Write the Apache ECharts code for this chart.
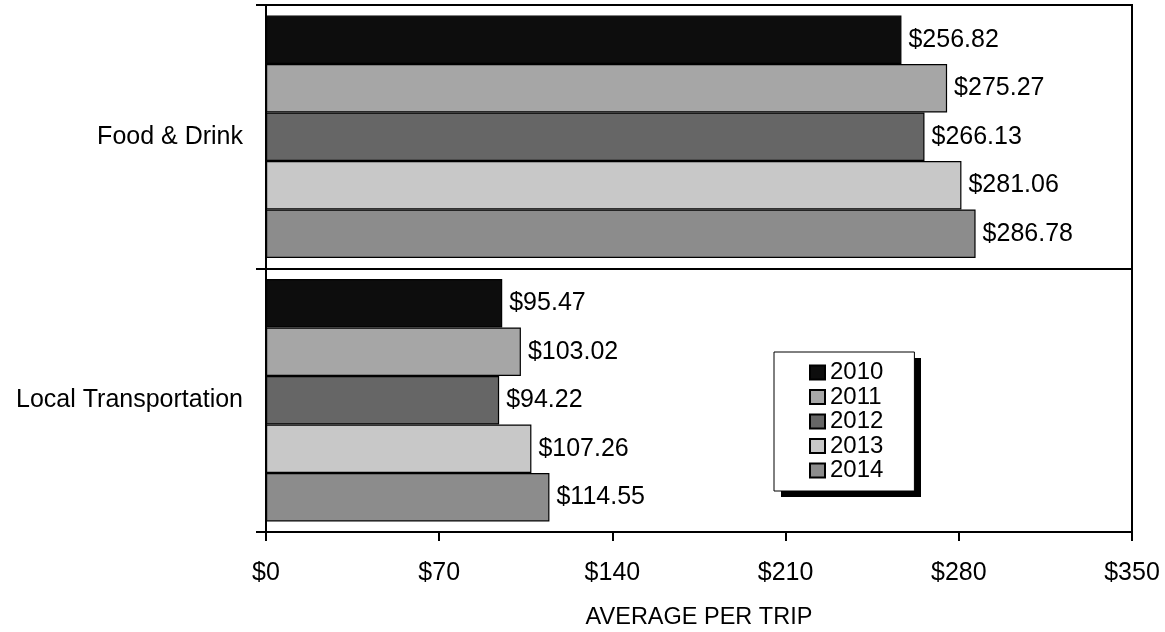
<!DOCTYPE html>
<html>
<head>
<meta charset="utf-8">
<script src="https://cdn.jsdelivr.net/npm/echarts@6/dist/echarts.min.js"></script>
<style>
html,body{margin:0;padding:0;background:#fff;}
#chart{width:1165px;height:632px;}
</style>
</head>
<body>
<div id="chart"></div>
<script>
const categories = ['Food & Drink', 'Local Transportation'];
const years = ['2010', '2011', '2012', '2013', '2014'];
const values2010 = [256.82, 95.47];
const values2011 = [275.27, 103.02];
const values2012 = [266.13, 94.22];
const values2013 = [281.06, 107.26];
const values2014 = [286.78, 114.55];
const xTicks = [0, 70, 140, 210, 280, 350];
const axisTitle = 'AVERAGE PER TRIP';

const seriesValues = [values2010, values2011, values2012, values2013, values2014];
const colors = ['#0d0d0d', '#a6a6a6', '#666666', '#c8c8c8', '#8c8c8c'];
const FONT = "'Liberation Sans', Arial, sans-serif";

const chart = echarts.init(document.getElementById('chart'), null, {renderer: 'canvas'});
chart.setOption({
  animation: false,
  backgroundColor: '#fff',
  textStyle: {fontFamily: FONT},
  grid: {
    left: 266, right: 33, top: 5, bottom: 100,
    containLabel: false, outerBoundsMode: 'none',
    show: true, borderColor: '#000', borderWidth: 2, backgroundColor: 'transparent'
  },
  graphic: [{
    type: 'rect', z: 1, left: 781, top: 358,
    shape: {width: 140, height: 139},
    style: {fill: '#000'}
  }],
  legend: {
    z: 10,
    orient: 'vertical',
    left: 774, top: 352,
    padding: [8.5, 31, 8.5, 35],
    itemWidth: 15, itemHeight: 14,
    itemGap: 0.5,
    backgroundColor: '#fff',
    borderColor: '#000', borderWidth: 1,
    icon: 'rect',
    textStyle: {fontFamily: FONT, fontSize: 24, color: '#000'},
    data: years
  },
  xAxis: {
    type: 'value',
    min: 0, max: 350, interval: 70,
    name: axisTitle,
    nameLocation: 'middle',
    nameGap: 74,
    nameTextStyle: {fontFamily: FONT, fontSize: 23.5, color: '#000'},
    axisLine: {show: true, lineStyle: {color: '#000', width: 2}},
    axisTick: {show: true, inside: false, length: 9, lineStyle: {color: '#000', width: 2}},
    axisLabel: {
      fontFamily: FONT, fontSize: 25, color: '#000', margin: 29,
      formatter: v => xTicks.includes(v) ? '$' + v : ''
    },
    splitLine: {show: false}
  },
  yAxis: {
    type: 'category',
    data: categories,
    inverse: true,
    axisLine: {show: true, lineStyle: {color: '#000', width: 2}},
    axisTick: {show: true, inside: false, length: 10, lineStyle: {color: '#000', width: 2}},
    axisLabel: {fontFamily: FONT, fontSize: 25, color: '#000', margin: 23},
    splitLine: {show: true, lineStyle: {color: '#000', width: 2}}
  },
  series: years.map((y, i) => ({
    name: y,
    type: 'bar',
    data: seriesValues[i],
    barGap: '0%',
    barCategoryGap: '8%',
    itemStyle: {color: colors[i], borderColor: '#000', borderWidth: 1.2},
    label: {
      show: true, position: 'right', distance: 7,
      fontFamily: FONT, fontSize: 25, color: '#000',
      formatter: p => '$' + p.value.toFixed(2)
    }
  }))
});
</script>
</body>
</html>
